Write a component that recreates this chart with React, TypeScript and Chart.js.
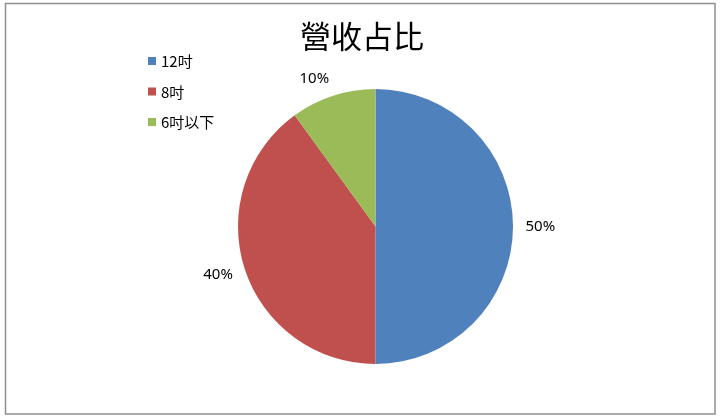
import React, { useEffect, useRef } from "react";
import { Chart, registerables } from "chart.js";

Chart.register(...registerables);

const chartTitle = "營收占比";
const categories = ["12吋", "8吋", "6吋以下"];
const shares = [50, 40, 10];
const percentLabels = ["50%", "40%", "10%"];
const colors = ["#4F81BD", "#C0504D", "#9BBB59"];

const FONT = '"Noto Sans CJK TC", "Noto Sans", sans-serif';
const LABEL_FONT = '"Noto Sans", sans-serif';

const overlayPlugin = {
  id: "overlay",
  beforeDraw(chart: any) {
    const ctx = chart.ctx;
    ctx.save();
    ctx.fillStyle = "#ffffff";
    ctx.fillRect(0, 0, chart.width, chart.height);
    ctx.restore();
  },
  afterDraw(chart: any) {
    const ctx = chart.ctx;
    ctx.save();
    // outer frame
    ctx.strokeStyle = "#8e8e8e";
    ctx.lineWidth = 1.5;
    ctx.strokeRect(5.5, 3.5, 709.5, 410.5);

    // title
    ctx.fillStyle = "#000000";
    ctx.textAlign = "center";
    ctx.textBaseline = "middle";
    ctx.font = `31px ${FONT}`;
    ctx.fillText(chartTitle, 362, 36);

    // legend
    ctx.textAlign = "left";
    ctx.font = `15px ${FONT}`;
    categories.forEach((c, i) => {
      const y = 61 + i * 30.5;
      ctx.fillStyle = colors[i];
      ctx.fillRect(148, y - 4, 8, 8);
      ctx.fillStyle = "#000000";
      ctx.fillText(c, 161, y + 0.5);
    });

    // percent labels outside slices
    const meta = chart.getDatasetMeta(0);
    ctx.textAlign = "center";
    ctx.font = `15px ${LABEL_FONT}`;
    ctx.fillStyle = "#000000";
    meta.data.forEach((arc: any, i: number) => {
      const p = arc.getProps(["x", "y", "startAngle", "endAngle", "outerRadius"], true);
      const mid = (p.startAngle + p.endAngle) / 2;
      const r = p.outerRadius + 12.5;
      const c = Math.cos(mid);
      const s = Math.sin(mid);
      const hw = ctx.measureText(percentLabels[i]).width / 2;
      const hh = 5.5;
      const sx = Math.abs(c) < 0.05 ? 0 : Math.sign(c);
      const ax = p.x + c * r + sx * hw;
      const ay = p.y + s * r + s * hh;
      ctx.fillText(percentLabels[i], ax, ay + 0.5);
    });
    ctx.restore();
  },
};

export default function App() {
  const ref = useRef<HTMLCanvasElement | null>(null);
  useEffect(() => {
    if (!ref.current) return;
    const chart = new Chart(ref.current, {
      type: "pie",
      data: {
        labels: categories,
        datasets: [
          {
            data: shares,
            backgroundColor: colors,
            borderWidth: 0,
            hoverOffset: 0,
          },
        ],
      },
      options: {
        responsive: false,
        animation: false,
        devicePixelRatio: 1,
        layout: { padding: { top: 89, bottom: 52, left: 200, right: 169 } },
        plugins: {
          legend: { display: false },
          title: { display: false },
          tooltip: { enabled: false },
        },
      },
      plugins: [overlayPlugin],
    });
    return () => chart.destroy();
  }, []);
  return (
    <div style={{ position: "absolute", left: 0, top: 0, width: 720, height: 416, background: "#fff" }}>
      <canvas ref={ref} width={720} height={416} style={{ display: "block", width: 720, height: 416 }} />
    </div>
  );
}
